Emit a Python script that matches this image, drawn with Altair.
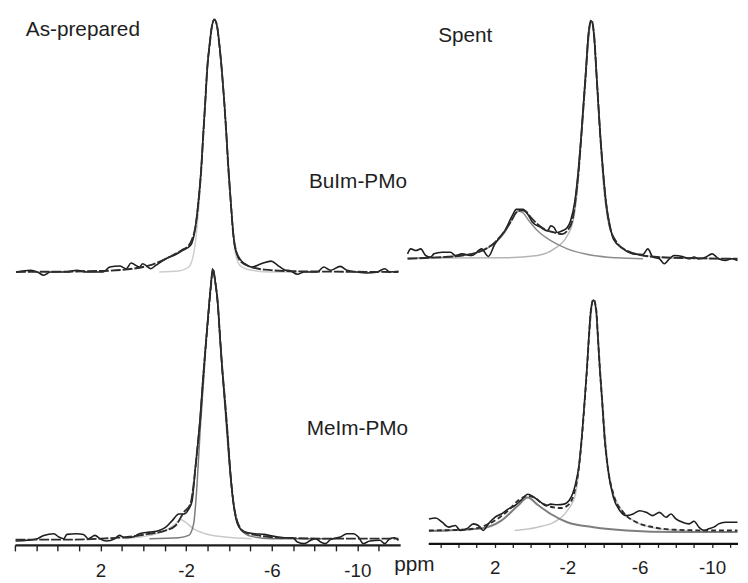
import altair as alt
import pandas as pd

# ---------------- data (ppm, intensity a.u.) ----------------
# As-prepared, BuIm-PMo (top left)
TL_FIT_PPM = [5.95, 2.03, 0.49, -0.28, -1.05, -1.82, -2.12, -2.28, -2.43, -2.58, -2.71, -2.80, -2.89, -2.98, -3.11, -3.20, -3.32, -3.45, -3.54, -3.66, -3.78, -3.88, -3.97, -4.08, -4.20, -4.35, -4.58, -5.05, -5.66, -7.20, -11.92]
TL_FIT_INT = [0, 3, 10, 20, 40, 67, 80, 100, 135, 215, 315, 415, 515, 615, 695, 745, 767, 745, 695, 615, 515, 415, 315, 215, 115, 60, 30, 15, 7, 2, 0]
TL_EXP_PPM = [5.95, 5.26, 4.95, 4.65, 4.34, 3.57, 3.11, 2.65, 1.88, 1.57, 1.11, 0.80, 0.57, 0.18, 0.03, -0.35, -0.58, -1.05, -1.51, -1.82, -2.20, -2.43, -2.58, -2.71, -2.80, -2.90, -2.99, -3.11, -3.21, -3.32, -3.44, -3.54, -3.66, -3.78, -3.88, -3.97, -4.08, -4.20, -4.28, -4.51, -4.74, -5.05, -5.51, -5.97, -6.28, -6.58, -6.89, -7.20, -7.51, -8.12, -8.43, -8.74, -9.20, -9.51, -9.97, -10.43, -10.89, -11.28, -11.51, -11.92]
TL_EXP_INT = [0, 5, 0, -10, 0, 0, 5, 0, 0, 15, 18, 10, 27, 15, 25, 10, 20, 40, 53, 65, 80, 135, 220, 320, 420, 520, 620, 700, 748, 765, 748, 700, 620, 520, 420, 320, 220, 120, 75, 40, 25, 15, 25, 33, 20, 7, 3, -7, 0, 0, 15, 5, 17, 5, 0, -3, -1, 10, 0, 2]
TL_MAIN_PPM = [-0.74, -1.66, -2.12, -2.35, -2.51, -2.63, -2.74, -2.89, -3.05, -3.20, -3.32, -3.45, -3.60, -3.78, -3.94, -4.09, -4.20, -4.31, -4.51, -5.05, -5.97, -7.20]
TL_MAIN_INT = [0, 3, 15, 55, 135, 235, 365, 515, 665, 745, 765, 743, 665, 515, 365, 215, 115, 55, 20, 5, 0, 0]

# As-prepared, MeIm-PMo (bottom left)
BL_FIT_PPM = [5.97, 3.57, 2.03, 0.49, -0.28, -1.05, -1.51, -1.89, -2.20, -2.35, -2.51, -2.66, -2.77, -2.89, -3.02, -3.14, -3.25, -3.35, -3.48, -3.58, -3.69, -3.82, -3.94, -4.05, -4.20, -4.43, -4.74, -5.35, -6.43, -8.74, -11.92]
BL_FIT_INT = [-3, -3, 0, 7, 15, 25, 40, 80, 105, 165, 265, 365, 465, 565, 665, 755, 820, 785, 715, 615, 515, 415, 315, 215, 115, 45, 20, 10, 3, 0, 0]
BL_EXP_PPM = [5.97, 5.42, 4.95, 4.65, 4.18, 3.95, 3.72, 3.57, 3.11, 2.80, 2.57, 2.26, 2.03, 1.72, 1.34, 1.11, 0.88, 0.49, 0.18, -0.28, -0.74, -1.05, -1.35, -1.66, -1.89, -2.12, -2.28, -2.43, -2.52, -2.66, -2.77, -2.89, -3.02, -3.14, -3.25, -3.36, -3.48, -3.58, -3.69, -3.82, -3.94, -4.05, -4.20, -4.43, -4.74, -5.20, -5.66, -6.12, -6.58, -6.97, -7.20, -7.51, -7.82, -8.05, -8.28, -8.51, -8.74, -9.20, -9.51, -9.82, -10.05, -10.28, -10.58, -11.05, -11.28, -11.51, -11.74, -11.92]
BL_EXP_INT = [-7, -5, 0, 10, 15, 5, 0, 13, 15, 13, 0, 10, 0, -7, 0, 10, 3, 5, 15, 20, 25, 35, 55, 75, 75, 90, 115, 215, 270, 370, 470, 570, 670, 760, 818, 780, 712, 612, 512, 412, 312, 212, 112, 40, 20, 15, 13, 7, 3, 3, -10, -15, -5, 0, -10, -15, -3, 5, 15, 15, 5, -15, -7, -5, -15, 0, 3, -5]
BL_MAIN_PPM = [-0.28, -1.66, -2.12, -2.35, -2.51, -2.66, -2.82, -2.97, -3.12, -3.25, -3.37, -3.51, -3.66, -3.82, -3.97, -4.12, -4.31, -4.58, -5.05, -5.97, -8.74]
BL_MAIN_INT = [0, 3, 10, 45, 165, 335, 485, 635, 745, 815, 775, 685, 535, 395, 265, 155, 70, 25, 7, 0, 0]
BL_BROAD_PPM = [0.80, -0.28, -1.05, -1.51, -1.74, -1.97, -2.28, -2.89, -3.82, -5.05]
BL_BROAD_INT = [0, 10, 25, 45, 58, 50, 33, 15, 5, 0]

# Spent, BuIm-PMo (top right)
TR_FIT_PPM = [6.82, 5.64, 3.82, 2.91, 2.00, 1.45, 1.09, 0.82, 0.55, 0.27, 0.00, -0.36, -0.73, -1.27, -1.73, -2.00, -2.27, -2.45, -2.64, -2.78, -2.91, -3.04, -3.16, -3.33, -3.49, -3.60, -3.71, -3.82, -3.96, -4.13, -4.36, -4.73, -5.27, -6.18, -7.09, -8.91, -11.40]
TR_FIT_INT = [0, 3, 10, 20, 50, 85, 115, 140, 147, 143, 125, 105, 90, 80, 75, 85, 115, 175, 275, 375, 475, 575, 675, 725, 675, 575, 475, 375, 275, 175, 95, 50, 25, 10, 5, 2, 0]
TR_EXP_PPM = [6.82, 6.64, 6.36, 6.09, 5.82, 5.55, 5.36, 4.91, 4.45, 4.18, 3.82, 3.27, 2.73, 2.36, 2.00, 1.45, 1.00, 0.82, 0.45, 0.18, -0.09, -0.55, -0.91, -1.09, -1.27, -1.45, -1.73, -2.00, -2.18, -2.42, -2.62, -2.77, -2.90, -3.03, -3.16, -3.33, -3.49, -3.60, -3.71, -3.83, -3.97, -4.14, -4.36, -4.55, -5.09, -5.64, -6.18, -6.45, -6.73, -7.09, -7.36, -7.64, -7.91, -8.36, -8.73, -9.00, -9.27, -9.64, -10.00, -10.36, -10.73, -11.09, -11.40]
TR_EXP_INT = [15, 30, 25, 30, 10, 5, 15, 20, 20, 10, 15, 10, 30, 7, 45, 85, 135, 150, 150, 135, 110, 95, 85, 100, 95, 80, 85, 95, 115, 175, 275, 375, 475, 575, 675, 722, 672, 572, 472, 372, 272, 172, 100, 60, 30, 15, 13, 30, 5, 0, -15, 0, 10, 7, 0, 5, 0, 5, 15, 0, -5, 0, -5]
TR_SIDE_PPM = [6.82, 5.64, 3.82, 2.91, 2.00, 1.45, 1.00, 0.73, 0.45, 0.18, -0.36, -1.09, -2.00, -3.45, -4.73, -6.18]
TR_SIDE_INT = [2, 3, 10, 20, 47, 80, 125, 145, 140, 120, 85, 55, 30, 10, 3, 0]
TR_MAIN_PPM = [6.82, 1.45, -0.36, -1.27, -2.00, -2.36, -2.58, -2.76, -2.95, -3.13, -3.33, -3.53, -3.69, -3.84, -4.00, -4.22, -4.55, -5.09, -6.00, -7.09, -8.91, -11.40]
TR_MAIN_INT = [2, 3, 10, 30, 70, 125, 225, 355, 495, 635, 723, 635, 495, 355, 225, 125, 65, 30, 13, 5, 1, 0]

# Spent, MeIm-PMo (bottom right)
BR_FIT_PPM = [5.64, 3.82, 2.91, 2.00, 1.27, 0.73, 0.18, -0.18, -0.55, -1.09, -1.64, -2.00, -2.36, -2.64, -2.82, -2.96, -3.09, -3.20, -3.31, -3.45, -3.60, -3.69, -3.80, -3.93, -4.05, -4.24, -4.55, -5.09, -5.82, -6.73, -8.00, -9.82, -11.40]
BR_FIT_INT = [0, 2, 8, 30, 60, 90, 105, 100, 85, 72, 68, 75, 110, 190, 290, 390, 490, 590, 670, 702, 670, 590, 490, 390, 290, 190, 110, 55, 25, 10, 2, 0, 0]
BR_EXP_PPM = [5.64, 5.27, 4.91, 4.55, 4.18, 3.91, 3.55, 3.18, 2.91, 2.64, 2.36, 2.00, 1.64, 1.27, 0.91, 0.55, 0.18, -0.18, -0.55, -0.82, -1.09, -1.45, -1.82, -2.09, -2.45, -2.64, -2.82, -2.96, -3.09, -3.20, -3.31, -3.45, -3.60, -3.69, -3.80, -3.93, -4.05, -4.24, -4.55, -4.91, -5.27, -5.64, -6.00, -6.36, -6.73, -7.09, -7.45, -7.73, -8.00, -8.36, -8.73, -9.00, -9.27, -9.55, -9.82, -10.09, -10.36, -10.73, -11.40]
BR_EXP_INT = [35, 38, 25, 10, 15, 0, 5, 20, 15, 0, 20, 40, 50, 65, 75, 92, 110, 100, 85, 75, 80, 78, 80, 90, 140, 195, 295, 395, 495, 595, 672, 700, 668, 588, 488, 388, 288, 188, 100, 60, 45, 50, 60, 55, 45, 55, 40, 50, 35, 25, 20, 28, 10, 0, 5, 10, 20, 25, 25]
BR_SIDE_PPM = [5.64, 2.91, 1.64, 0.73, 0.18, -0.36, -1.09, -2.00, -3.45, -5.27, -8.00, -11.40]
BR_SIDE_INT = [-2, 5, 30, 75, 100, 78, 50, 25, 10, 0, -5, -5]
BR_MAIN_PPM = [0.91, -0.36, -1.27, -2.00, -2.45, -2.69, -2.87, -3.05, -3.24, -3.45, -3.67, -3.85, -4.04, -4.22, -4.45, -4.91, -5.64, -7.09, -8.91]
BR_MAIN_INT = [0, 10, 25, 60, 110, 210, 330, 470, 610, 700, 610, 470, 330, 210, 130, 70, 30, 5, -2]

# axis ticks / labels
TICK_LABELS = [2, -2, -6, -10]
LEFT_TICKS = list(range(6, -12, -1))
RIGHT_TICKS = list(range(5, -12, -1))
RIGHT_AXIS_SPAN = [5.65, -11.43]

# text annotations: (label, ppm, intensity)
TL_TEXT = [("As-prepared", 5.49, 718), ("BuIm-PMo", -7.74, 255)]
BL_TEXT = [("MeIm-PMo", -7.63, 315), ("ppm", -11.72, -98)]
TR_TEXT = [("Spent", 5.13, 657)]

# ---------------- styling ----------------
FONT = "Liberation Sans"
INK = "#1e1e1e"
LEFT_W, RIGHT_W = 390, 336
ROW_H = 270
LEFT_X = alt.Scale(domain=[6, -12], nice=False, zero=False)
RIGHT_X = alt.Scale(domain=[6.9, -11.43], nice=False, zero=False)
TL_Y = alt.Scale(domain=[-19, 791], nice=False, zero=False)
BL_Y = alt.Scale(domain=[-19, 791], nice=False, zero=False)
TR_Y = alt.Scale(domain=[-59, 751], nice=False, zero=False)
BR_Y = alt.Scale(domain=[-41, 766], nice=False, zero=False)

label_expr = "indexof([" + ",".join(str(v) for v in TICK_LABELS) + "], datum.value) >= 0 ? '' + datum.value : ''"

BL_AXIS = alt.Axis(values=LEFT_TICKS, labelExpr=label_expr, tickSize=6, tickWidth=1.4,
                   tickColor=INK, domainColor=INK, domainWidth=2.2, labelFont=FONT,
                   labelFontSize=19, labelColor=INK, labelPadding=10.5, labelOverlap=False,
                   labelFlush=False, grid=False, title=None)
BR_AXIS = alt.Axis(values=RIGHT_TICKS, labelExpr=label_expr, tickSize=3.5, tickWidth=1.3,
                   tickColor=INK, domain=False, labelFont=FONT, labelFontSize=19,
                   labelColor=INK, labelPadding=11.5, labelOverlap=False, labelFlush=False,
                   grid=False, title=None)


def frame(ppm, inten):
    return pd.DataFrame({"ppm": ppm, "I": inten, "k": list(range(len(ppm)))})


def trace(ppm, inten, xs, ys, xaxis, color, width, dash=None):
    mk = dict(color=color, strokeWidth=width, strokeJoin="round", interpolate="monotone")
    if dash:
        mk["strokeDash"] = dash
    return alt.Chart(frame(ppm, inten)).mark_line(**mk).encode(
        x=alt.X("ppm:Q", scale=xs, axis=xaxis),
        y=alt.Y("I:Q", scale=ys, axis=None),
        order="k:Q",
    )


def texts(items, xs, ys, xaxis):
    df = pd.DataFrame({"t": [i[0] for i in items], "ppm": [i[1] for i in items],
                       "I": [i[2] for i in items]})
    return alt.Chart(df).mark_text(align="left", baseline="alphabetic", font=FONT,
                                   fontSize=21, color=INK).encode(
        x=alt.X("ppm:Q", scale=xs, axis=xaxis),
        y=alt.Y("I:Q", scale=ys, axis=None),
        text="t:N",
    )


FIT_DASH = [10, 2]

tl = alt.layer(
    trace(TL_MAIN_PPM, TL_MAIN_INT, LEFT_X, TL_Y, None, "#cdcdcd", 1.5),
    trace(TL_EXP_PPM, TL_EXP_INT, LEFT_X, TL_Y, None, INK, 1.6),
    trace(TL_FIT_PPM, TL_FIT_INT, LEFT_X, TL_Y, None, "#2d2d2d", 1.9, FIT_DASH),
    texts(TL_TEXT, LEFT_X, TL_Y, None),
).properties(width=LEFT_W, height=ROW_H)

bl = alt.layer(
    trace(BL_BROAD_PPM, BL_BROAD_INT, LEFT_X, BL_Y, BL_AXIS, "#c9c9c9", 1.5),
    trace(BL_MAIN_PPM, BL_MAIN_INT, LEFT_X, BL_Y, BL_AXIS, "#7a7a7a", 1.5),
    trace(BL_EXP_PPM, BL_EXP_INT, LEFT_X, BL_Y, BL_AXIS, INK, 1.6),
    trace(BL_FIT_PPM, BL_FIT_INT, LEFT_X, BL_Y, BL_AXIS, "#2d2d2d", 1.9, FIT_DASH),
    texts(BL_TEXT, LEFT_X, BL_Y, BL_AXIS),
).properties(width=LEFT_W, height=ROW_H)

tr = alt.layer(
    trace(TR_MAIN_PPM, TR_MAIN_INT, RIGHT_X, TR_Y, None, "#b5b5b5", 1.5),
    trace(TR_SIDE_PPM, TR_SIDE_INT, RIGHT_X, TR_Y, None, "#8c8c8c", 1.5),
    trace(TR_EXP_PPM, TR_EXP_INT, RIGHT_X, TR_Y, None, INK, 1.6),
    trace(TR_FIT_PPM, TR_FIT_INT, RIGHT_X, TR_Y, None, "#2d2d2d", 1.9, FIT_DASH),
    texts(TR_TEXT, RIGHT_X, TR_Y, None),
).properties(width=RIGHT_W, height=ROW_H)

axis_line = alt.Chart(pd.DataFrame({"a": [RIGHT_AXIS_SPAN[0]], "b": [RIGHT_AXIS_SPAN[1]]})).mark_rule(
    color="#111111", strokeWidth=2.2).encode(
    x=alt.X("a:Q", scale=RIGHT_X, axis=BR_AXIS),
    x2="b:Q",
    y=alt.YDatum(-41, scale=BR_Y, axis=None),
)

br = alt.layer(
    trace(BR_MAIN_PPM, BR_MAIN_INT, RIGHT_X, BR_Y, BR_AXIS, "#c6c6c6", 1.5),
    trace(BR_SIDE_PPM, BR_SIDE_INT, RIGHT_X, BR_Y, BR_AXIS, "#7e7e7e", 2.0),
    trace(BR_EXP_PPM, BR_EXP_INT, RIGHT_X, BR_Y, BR_AXIS, INK, 1.6),
    trace(BR_FIT_PPM, BR_FIT_INT, RIGHT_X, BR_Y, BR_AXIS, "#2d2d2d", 1.9, [5, 3]),
    axis_line,
).properties(width=RIGHT_W, height=ROW_H - 1)

chart = alt.concat(
    tl, tr, bl, br, columns=2, spacing={"row": 0, "column": 6}, bounds="flush"
).properties(
    padding={"left": 6, "top": 0, "right": 0, "bottom": 0}
).configure_view(stroke=None)

chart.save("out.html", embed_options={"renderer": "svg", "actions": False})
